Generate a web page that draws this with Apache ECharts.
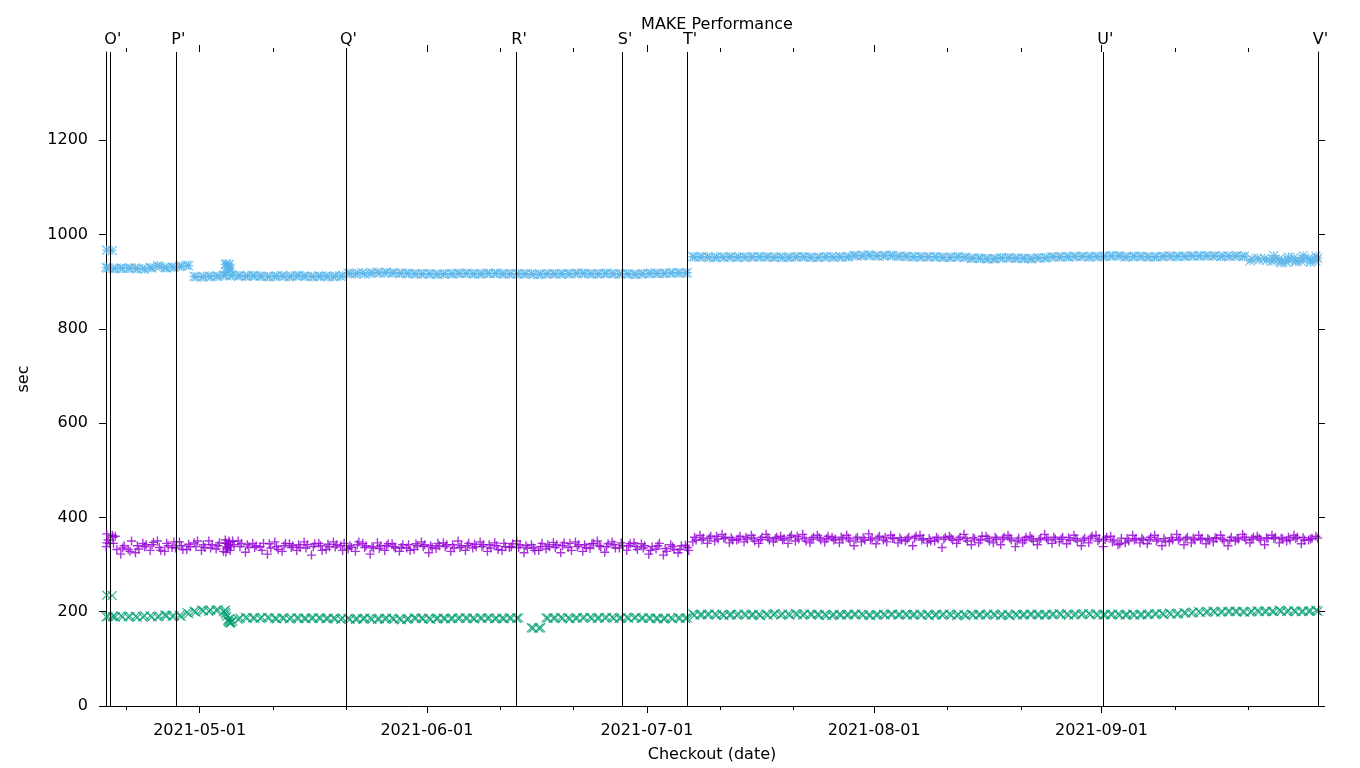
<!DOCTYPE html>
<html><head><meta charset="utf-8">
<script src="https://cdn.jsdelivr.net/npm/echarts@6/dist/echarts.min.js"></script>
<style>html,body{margin:0;padding:0;background:#fff}#c{width:1360px;height:768px}</style>
</head><body><div id="c"></div>
<script>
const chartTitle = 'MAKE Performance';
const xName = 'Checkout (date)';
const yName = 'sec';
const firstRunA = '2021-04-18 12:00';   // one checkout per day per run from here
const firstRunB = '2021-04-18 06:00';
const firstRunC = '2021-04-18 17:00';
const xStart = '2021-04-18 05:30';
const xEnd = '2021-09-30 12:40';
const yMax = 1387;
const yTicks = [0, 200, 400, 600, 800, 1000, 1200];
const monthTicks = ['2021-05-01', '2021-06-01', '2021-07-01', '2021-08-01', '2021-09-01'];
const minorTicks = ['2021-04-21', '2021-05-11', '2021-05-21', '2021-06-11', '2021-06-21', '2021-07-11',
  '2021-07-21', '2021-08-11', '2021-08-21', '2021-09-11', '2021-09-21'];
const releaseNames = ["O'", "P'", "Q'", "R'", "S'", "T'", "U'", "V'"];
const releaseDates = ['2021-04-18 19:40', '2021-04-27 18:10', '2021-05-20 22:55', '2021-06-13 05:20',
  '2021-06-27 16:30', '2021-07-06 13:30', '2021-09-01 04:30', '2021-09-30 12:40'];

// daily values (rows of 10 days)
const purpleA = [
  352, 360, 335, 328, 340, 338, 342, 336, 345, 348,
  340, 343, 338, 342, 335, 340, 345, 350, 338, 342,
  336, 330, 344, 338, 340, 336, 342, 335, 338, 340,
  343, 337, 330, 340, 342, 336, 338, 334, 340, 338,
  336, 342, 344, 338, 340, 345, 338, 342, 336, 340,
  343, 338, 342, 340, 345, 338, 336, 340, 335, 338,
  342, 336, 340, 345, 338, 342, 344, 340, 338, 342,
  346, 340, 338, 335, 330, 340, 334, 338, 332, 336,
  358, 352, 356, 360, 355, 357, 354, 358, 356, 353,
  357, 355, 352, 358, 360, 356, 354, 357, 355, 352,
  358, 356, 354, 357, 352, 356, 358, 355, 357, 354,
  356, 352, 355, 358, 354, 356, 353, 355, 357, 352,
  355, 358, 354, 356, 350, 352, 355, 353, 356, 358,
  354, 357, 355, 352, 356, 350, 353, 348, 344, 355,
  352, 356, 353, 350, 355, 357, 352, 354, 356, 353,
  355, 357, 354, 352, 356, 358, 354, 356, 357, 355,
  356, 358, 355, 357, 354, 356
];
const purpleB = [
  338, 345, 322, 332, 325, 345, 330, 350, 328, 336,
  348, 332, 346, 330, 350, 333, 328, 338, 350, 326,
  345, 338, 322, 348, 328, 344, 330, 348, 320, 345,
  332, 348, 340, 333, 328, 345, 322, 346, 330, 344,
  328, 335, 332, 348, 325, 334, 346, 328, 350, 330,
  335, 348, 328, 346, 330, 336, 350, 325, 342, 330,
  333, 347, 325, 336, 348, 328, 334, 350, 326, 348,
  335, 330, 346, 344, 322, 333, 320, 342, 325, 341,
  348, 362, 345, 350, 364, 346, 352, 348, 362, 345,
  364, 348, 360, 345, 350, 364, 346, 362, 348, 358,
  346, 362, 340, 348, 365, 344, 352, 362, 346, 350,
  340, 362, 346, 350, 336, 360, 345, 364, 342, 346,
  360, 346, 342, 362, 338, 346, 360, 342, 364, 345,
  348, 344, 362, 340, 346, 362, 338, 360, 342, 346,
  362, 346, 344, 362, 340, 348, 364, 342, 346, 362,
  344, 348, 362, 340, 350, 364, 346, 360, 342, 362,
  346, 350, 362, 344, 352, 360
];
const purpleC = [
  345, 332, 340, 350, 333, 342, 347, 330, 340, 335,
  332, 338, 350, 336, 342, 346, 335, 342, 345, 337,
  340, 345, 335, 332, 345, 340, 336, 342, 344, 330,
  338, 342, 345, 336, 348, 340, 335, 340, 344, 335,
  342, 330, 340, 342, 336, 340, 342, 335, 340, 345,
  338, 342, 335, 332, 338, 344, 342, 335, 330, 345,
  338, 342, 346, 330, 342, 336, 345, 338, 344, 335,
  340, 344, 332, 340, 338, 345, 328, 332, 340, 330,
  352, 356, 360, 354, 358, 352, 360, 354, 350, 358,
  352, 358, 355, 362, 354, 350, 358, 352, 360, 354,
  354, 350, 358, 352, 356, 360, 348, 356, 352, 358,
  360, 355, 350, 354, 358, 352, 358, 350, 354, 360,
  350, 354, 358, 352, 356, 358, 350, 356, 352, 354,
  358, 352, 350, 356, 360, 354, 358, 352, 356, 350,
  355, 352, 358, 354, 350, 352, 356, 358, 352, 356,
  352, 356, 350, 358, 354, 352, 358, 352, 355, 358,
  354, 352, 358, 352, 356, null
];
const greenA = [
  190, 189, 189, 190, 188, 191, 189, 190, 192, 191,
  190, 196, 199, 202, 203, 204, 203, 180, 186, 187,
  186, 188, 187, 185, 186, 187, 186, 185, 187, 186,
  186, 185, 186, 184, 185, 186, 184, 185, 186, 184,
  183, 185, 186, 185, 184, 186, 185, 186, 187, 186,
  185, 186, 187, 186, 185, 186, 187, null, 165, 166,
  186, 187, 186, 185, 187, 188, 186, 187, 188, 186,
  187, 186, 188, 187, 186, 185, 186, 185, 186, 187,
  193, 194, 195, 193, 192, 194, 195, 193, 194, 192,
  193, 196, 195, 193, 194, 195, 194, 193, 192, 194,
  193, 194, 195, 193, 192, 194, 193, 195, 194, 193,
  194, 193, 192, 194, 195, 193, 194, 192, 193, 194,
  195, 193, 194, 192, 193, 194, 195, 193, 194, 195,
  194, 193, 195, 196, 194, 193, 194, 195, 193, 194,
  193, 194, 195, 196, 194, 195, 196, 197, 199, 198,
  200, 199, 200, 201, 200, 199, 201, 200, 201, 200,
  201, 202, 200, 201, 202, 201
];
const greenB = [
  189, 190, 191, 189, 190, 189, 191, 189, 193, 190,
  192, 198, 201, 204, 201, 203, 200, 177, 184, 188,
  187, 186, 188, 186, 187, 185, 187, 186, 186, 187,
  185, 186, 184, 186, 184, 185, 186, 184, 185, 186,
  185, 184, 187, 186, 186, 185, 186, 185, 186, 187,
  186, 187, 186, 185, 186, 187, 186, null, 166, 165,
  187, 186, 188, 187, 186, 187, 188, 186, 187, 188,
  186, 188, 187, 186, 187, 186, 185, 187, 187, 186,
  195, 193, 194, 195, 194, 193, 193, 195, 193, 194,
  195, 194, 193, 195, 196, 193, 195, 194, 194, 192,
  194, 193, 194, 195, 193, 193, 195, 194, 193, 195,
  193, 195, 194, 193, 193, 195, 192, 194, 195, 193,
  193, 195, 192, 194, 195, 193, 194, 194, 193, 194,
  196, 195, 193, 194, 196, 195, 193, 194, 195, 193,
  195, 193, 194, 195, 196, 197, 195, 198, 197, 200,
  199, 201, 199, 200, 201, 200, 199, 202, 200, 201,
  203, 200, 202, 200, 201, 203
];
const blueA = [
  929, 928, 928, 929, 927, 926, 929, 932, 929, 930,
  933, 934, 910, 911, 910, 912, 913, 914, 913, 912,
  912, 911, 910, 912, 911, 912, 913, 911, 910, 911,
  910, 912, 913, 917, 918, 916, 919, 918, 920, 919,
  918, 917, 916, 917, 916, 915, 917, 916, 917, 918,
  916, 917, 917, 918, 916, 917, 916, 917, 915, 916,
  917, 916, 917, 916, 918, 917, 916, 917, 918, 916,
  917, 916, 915, 917, 918, 917, 918, 919, 918, 919,
  952, 953, 951, 952, 951, 953, 952, 951, 953, 952,
  953, 952, 951, 952, 953, 952, 951, 952, 953, 951,
  952, 953, 955, 956, 955, 954, 956, 955, 954, 953,
  953, 952, 953, 952, 951, 952, 953, 952, 950, 949,
  948, 949, 950, 951, 950, 949, 948, 950, 951, 952,
  953, 952, 953, 954, 953, 952, 954, 955, 954, 953,
  954, 953, 952, 953, 954, 953, 954, 953, 954, 955,
  954, 955, 954, 953, 955, 954, 948, 946, 945, 947,
  944, 946, 945, 948, 946, 950
];
const blueB = [
  930, 927, 929, 928, 929, 928, 930, 934, 930, 931,
  932, 935, 911, 909, 912, 911, 914, 912, 912, 911,
  913, 912, 911, 911, 913, 910, 912, 912, 911, 912,
  912, 910, 911, 918, 916, 919, 917, 920, 918, 918,
  917, 918, 917, 916, 917, 916, 916, 917, 918, 917,
  917, 916, 918, 917, 917, 916, 917, 916, 917, 915,
  916, 917, 916, 917, 917, 918, 917, 916, 917, 917,
  916, 917, 916, 916, 917, 918, 917, 918, 919, 918,
  953, 952, 953, 951, 953, 952, 951, 953, 952, 953,
  952, 951, 953, 951, 952, 953, 952, 951, 952, 953,
  953, 952, 956, 954, 957, 955, 954, 956, 953, 954,
  952, 953, 952, 953, 952, 951, 952, 951, 949, 950,
  949, 948, 951, 950, 949, 950, 949, 951, 950, 953,
  952, 953, 954, 953, 952, 954, 953, 954, 955, 952,
  953, 954, 953, 952, 953, 955, 953, 954, 955, 954,
  955, 954, 953, 955, 954, 953, 944, 950, 949, 943,
  948, 941, 951, 943, 950, 944
];
// extra runs (date, seconds)
const purpleExtra = [
  ['2021-04-18 08:00', 365], ['2021-04-19 02:00', 362], ['2021-04-19 04:00', 358], ['2021-04-18 08:00', 346],
  ['2021-05-04 12:00', 352], ['2021-05-04 16:00', 345], ['2021-05-04 20:00', 338], ['2021-05-05 00:00', 350],
  ['2021-05-05 04:00', 330], ['2021-05-04 14:00', 326], ['2021-05-04 22:00', 342], ['2021-05-05 02:00', 347],
  ['2021-05-04 18:00', 333]
];
const greenExtra = [
  ['2021-04-18 08:00', 235], ['2021-04-19 02:00', 234], ['2021-04-19 02:00', 189],
  ['2021-05-04 12:00', 198], ['2021-05-04 16:00', 190], ['2021-05-04 20:00', 182], ['2021-05-05 00:00', 178],
  ['2021-05-05 04:00', 176], ['2021-05-04 14:00', 195], ['2021-05-04 22:00', 180], ['2021-05-05 02:00', 185],
  ['2021-05-05 06:00', 178]
];
const blueExtra = [
  ['2021-04-18 08:00', 967], ['2021-04-19 02:00', 966],
  ['2021-05-04 12:00', 936], ['2021-05-04 16:00', 938], ['2021-05-04 20:00', 930], ['2021-05-05 00:00', 937],
  ['2021-05-05 04:00', 925], ['2021-05-04 14:00', 920], ['2021-05-04 22:00', 934], ['2021-05-05 02:00', 928],
  ['2021-09-24 12:00', 955], ['2021-09-25 12:00', 940], ['2021-09-26 12:00', 952], ['2021-09-27 12:00', 942],
  ['2021-09-28 12:00', 955], ['2021-09-29 12:00', 941], ['2021-09-30 06:00', 954]
];

function ts(s) {
  const m = s.match(/(\d+)-(\d+)-(\d+)(?:\s+(\d+):(\d+))?/);
  return new Date(+m[1], +m[2] - 1, +m[3], m[4] ? +m[4] : 0, m[5] ? +m[5] : 0).getTime();
}
const DAY = 86400000;
function daily(arr, start) {
  const t0 = ts(start), out = [];
  arr.forEach((v, i) => { if (v != null) out.push([t0 + i * DAY, v]); });
  return out;
}
function extra(arr) { return arr.map(p => [ts(p[0]), p[1]]); }

const FONT = 'DejaVu Sans';
const FS = 16;
const PLUS = 'path://M0,5L10,5M5,0L5,10';
const CROSS = 'path://M0,0L10,10M10,0L0,10';
const STAR = 'path://M0,5L10,5M5,0L5,10M0,0L10,10M10,0L0,10';
const C_PURPLE = '#9400d3', C_GREEN = '#009e73', C_BLUE = '#56b4e9';

function pad(n) { return (n < 10 ? '0' : '') + n; }
function fmtDate(v) { const d = new Date(v); return d.getFullYear() + '-' + pad(d.getMonth() + 1) + '-' + pad(d.getDate()); }

const xMin = ts(xStart), xMax = ts(xEnd);
const monthVals = monthTicks.map(ts), minorVals = minorTicks.map(ts);

function xAx(position, vals, len, showLabel, showLine, extraOpts) {
  return Object.assign({
    type: 'value', min: xMin, max: xMax, position: position,
    splitLine: { show: false },
    axisLine: { show: showLine, onZero: false, lineStyle: { color: '#000', width: 1 } },
    axisTick: { show: true, length: len, customValues: vals, lineStyle: { color: '#000', width: 1 } },
    axisLabel: { show: showLabel, customValues: vals, formatter: fmtDate, color: '#000',
      fontFamily: FONT, fontSize: FS, margin: 17 },
    axisPointer: { show: false }
  }, extraOpts || {});
}

function scatter(name, data, symbol, color, lw) {
  return {
    name: name, type: 'scatter', data: data, symbol: symbol, symbolSize: 9,
    xAxisIndex: 0, yAxisIndex: 0, animation: false, silent: true, z: 2,
    itemStyle: { color: 'transparent', borderColor: color, borderWidth: lw }
  };
}

const chart = echarts.init(document.getElementById('c'), null, { renderer: 'canvas' });
const releaseLines = releaseNames.map((n, i) => ({ name: n, xAxis: ts(releaseDates[i]) }));

chart.setOption({
  backgroundColor: '#fff',
  animation: false,
  title: {
    text: chartTitle, left: 712, top: 12, textAlign: 'center',
    textStyle: { fontFamily: FONT, fontSize: FS, fontWeight: 'normal', color: '#000' }
  },
  grid: { left: 106, right: 42, top: 52, bottom: 62, containLabel: false },
  xAxis: [
    xAx('bottom', monthVals, 7, true, true, {
      name: xName, nameLocation: 'middle', nameGap: 41,
      nameTextStyle: { fontFamily: FONT, fontSize: FS, color: '#000' }
    }),
    xAx('bottom', minorVals, 4, false, false),
    xAx('top', monthVals, 7, false, false),
    xAx('top', minorVals, 4, false, false)
  ],
  yAxis: [
    {
      type: 'value', min: 0, max: yMax, position: 'left',
      name: yName, nameLocation: 'middle', nameGap: 74, nameRotate: 90,
      nameTextStyle: { fontFamily: FONT, fontSize: FS, color: '#000' },
      splitLine: { show: false },
      axisLine: { show: true, lineStyle: { color: '#000', width: 1 } },
      axisTick: { show: true, length: 7, customValues: yTicks, lineStyle: { color: '#000' } },
      axisLabel: { customValues: yTicks, formatter: v => String(v), color: '#000', fontFamily: FONT, fontSize: FS, margin: 18 }
    },
    {
      type: 'value', min: 0, max: yMax, position: 'right',
      splitLine: { show: false },
      axisLine: { show: true, lineStyle: { color: '#000', width: 1 } },
      axisTick: { show: true, length: 7, customValues: yTicks, lineStyle: { color: '#000' } },
      axisLabel: { show: false }
    }
  ],
  series: [
    scatter('purple', daily(purpleA, firstRunA).concat(daily(purpleB, firstRunB), daily(purpleC, firstRunC), extra(purpleExtra)), PLUS, C_PURPLE, 1.4),
    scatter('green', daily(greenA, firstRunA).concat(daily(greenB, firstRunB), extra(greenExtra)), CROSS, C_GREEN, 1.2),
    Object.assign(scatter('blue', daily(blueA, firstRunA).concat(daily(blueB, firstRunB), extra(blueExtra)), STAR, C_BLUE, 1.2), {
      markLine: {
        silent: true, symbol: ['none', 'none'], animation: false,
        lineStyle: { color: '#000', width: 1, type: 'solid' },
        label: { show: true, position: 'end', formatter: '{b}', color: '#000', fontFamily: FONT, fontSize: FS,
          distance: 4, padding: [0, 0, 0, 5] },
        data: releaseLines, z: 5
      }
    })
  ]
});
</script>
</body></html>
